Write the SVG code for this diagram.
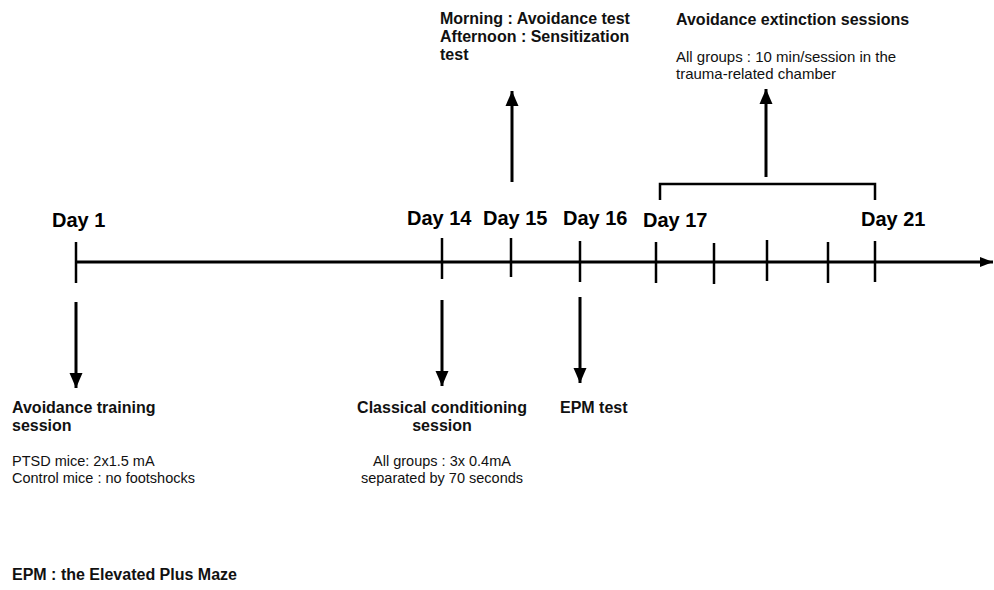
<svg xmlns="http://www.w3.org/2000/svg" width="994" height="590" viewBox="0 0 994 590">
<style>
  .bg { fill: #ffffff; }
  .line { stroke: #000; stroke-width: 3; fill: none; }
  .tick { stroke: #000; stroke-width: 2.5; fill: none; }
  .day { font-family: "Liberation Sans", Arial, sans-serif; font-weight: bold; font-size: 20px; fill: #000; }
  .title { font-family: "Liberation Sans", Arial, sans-serif; font-weight: bold; font-size: 16px; fill: #111; }
  .note { font-family: "Liberation Sans", Arial, sans-serif; font-size: 15px; fill: #111; }
</style>
<defs>
  <marker id="head" markerUnits="userSpaceOnUse" markerWidth="16" markerHeight="16" viewBox="0 0 16 16" refX="15" refY="8" orient="auto">
    <path d="M0,1.5 L15,8 L0,14.5 Z" fill="#000"/>
  </marker>
  <marker id="headSmall" markerUnits="userSpaceOnUse" markerWidth="14" markerHeight="14" viewBox="0 0 14 14" refX="13" refY="7" orient="auto">
    <path d="M0,2 L13,7 L0,12 Z" fill="#000"/>
  </marker>
</defs>
<rect class="bg" x="0" y="0" width="994" height="590"/>

<g id="connectors">
  <line id="timeline" class="line" x1="76" y1="262" x2="993" y2="262" marker-end="url(#headSmall)"/>
  <line class="line" x1="76" y1="302" x2="76" y2="388" marker-end="url(#head)"/>
  <line class="line" x1="442" y1="300" x2="442" y2="386" marker-end="url(#head)"/>
  <line class="line" x1="580" y1="297" x2="580" y2="383" marker-end="url(#head)"/>
  <line class="line" x1="512" y1="182" x2="512" y2="91" marker-end="url(#head)"/>
  <line class="line" x1="766" y1="177" x2="766" y2="89" marker-end="url(#head)"/>
  <path id="bracket" class="tick" d="M660,200 L660,184 L875,184 L875,200"/>
</g>

<g id="ticks">
  <line class="tick" x1="76" y1="242" x2="76" y2="283"/>
  <line class="tick" x1="442" y1="238" x2="442" y2="279"/>
  <line class="tick" x1="511" y1="238" x2="511" y2="277"/>
  <line class="tick" x1="580" y1="241" x2="580" y2="282"/>
  <line class="tick" x1="656" y1="242" x2="656" y2="283"/>
  <line class="tick" x1="714" y1="243" x2="714" y2="284"/>
  <line class="tick" x1="767" y1="240" x2="767" y2="281"/>
  <line class="tick" x1="828" y1="242" x2="828" y2="283"/>
  <line class="tick" x1="875" y1="241" x2="875" y2="282"/>
</g>

<g id="day-labels">
  <text class="day" x="52" y="227">Day 1</text>
  <text class="day" x="407" y="225">Day 14</text>
  <text class="day" x="483" y="225">Day 15</text>
  <text class="day" x="563" y="225">Day 16</text>
  <text class="day" x="643" y="227">Day 17</text>
  <text class="day" x="861" y="226">Day 21</text>
</g>

<g id="node-day1">
  <text class="title" x="12" y="413">Avoidance training</text>
  <text class="title" x="12" y="431">session</text>
  <text class="note" x="12" y="466" style="font-size:14.5px">PTSD mice: 2x1.5 mA</text>
  <text class="note" x="12" y="483" style="font-size:14.5px">Control mice : no footshocks</text>
</g>

<g id="node-day14">
  <text class="title" x="442" y="413" text-anchor="middle">Classical conditioning</text>
  <text class="title" x="442" y="431" text-anchor="middle">session</text>
  <text class="note" x="442" y="466" text-anchor="middle" style="font-size:14.5px">All groups : 3x 0.4mA</text>
  <text class="note" x="442" y="483" text-anchor="middle" style="font-size:14.5px">separated by 70 seconds</text>
</g>

<g id="node-day15">
  <text class="title" x="440" y="24">Morning : Avoidance test</text>
  <text class="title" x="440" y="42">Afternoon : Sensitization</text>
  <text class="title" x="440" y="60">test</text>
</g>

<g id="node-day16">
  <text class="title" x="560" y="413">EPM test</text>
</g>

<g id="node-day17-21">
  <text class="title" x="676" y="25">Avoidance extinction sessions</text>
  <text class="note" x="676" y="62">All groups : 10 min/session in the</text>
  <text class="note" x="676" y="79">trauma-related chamber</text>
</g>

<g id="legend">
  <text class="title" x="12" y="580">EPM : the Elevated Plus Maze</text>
</g>
</svg>
